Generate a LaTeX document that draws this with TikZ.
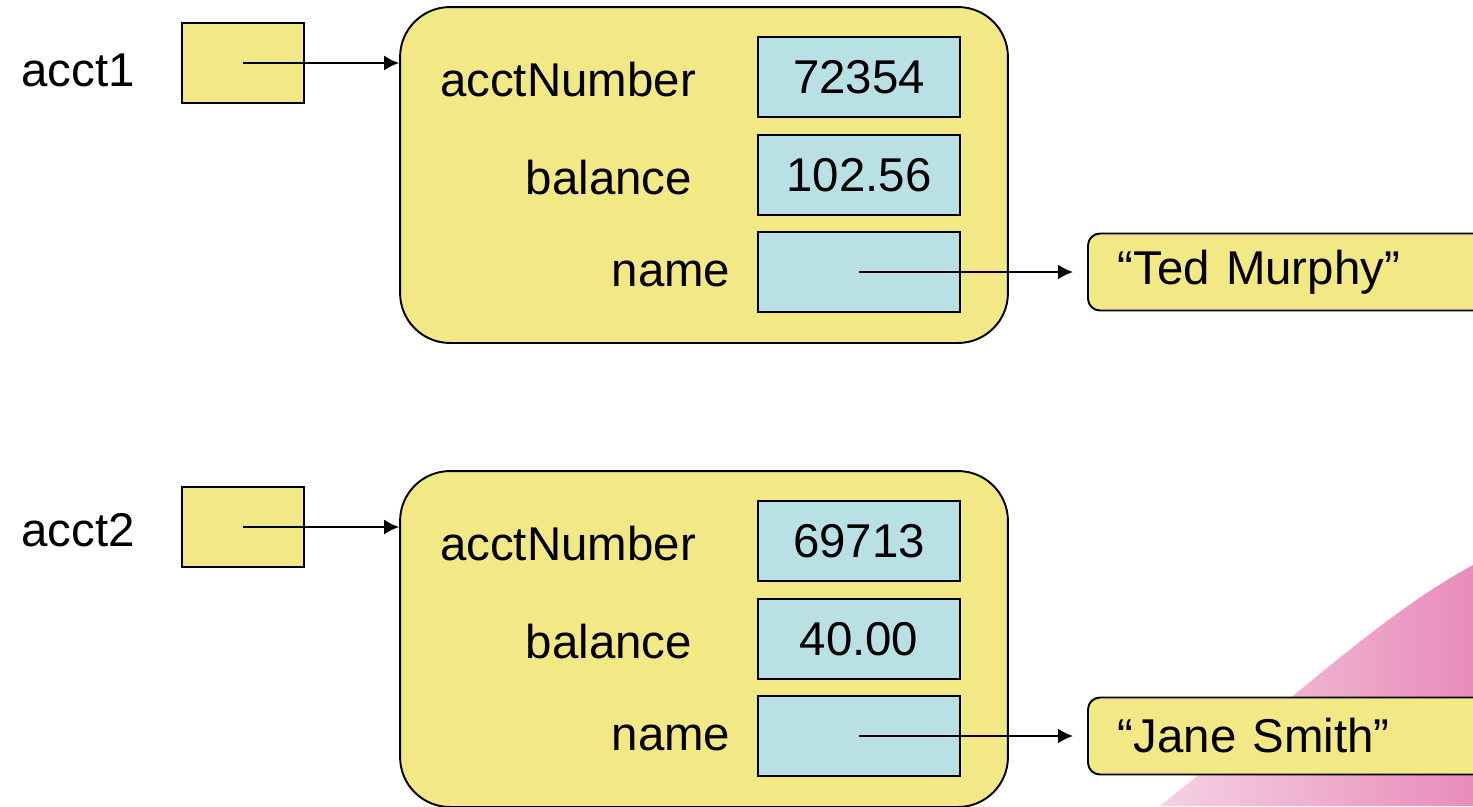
\documentclass[tikz,border=0pt]{standalone}
\usepackage{fontspec}
\setmainfont{Liberation Sans}
\usetikzlibrary{arrows.meta}
\definecolor{objyellow}{RGB}{243,232,134}
\definecolor{fieldblue}{RGB}{185,224,228}
\definecolor{slidepink}{RGB}{232,140,186}
\begin{document}
\begin{tikzpicture}[x=0.02cm,y=-0.02cm,>={Latex[length=0.3cm,width=0.3cm]},
  txt/.style={font=\fontsize{27}{32}\selectfont,inner sep=0pt},
  refbox/.style={draw,line width=1.1pt,fill=objyellow,minimum width=2.44cm,minimum height=1.6cm},
  objbox/.style={draw,line width=1.1pt,fill=objyellow,rounded corners=1cm,
    minimum width=12.16cm,minimum height=6.72cm},
  field/.style={draw,line width=1.1pt,fill=fieldblue,minimum width=4.04cm,
    minimum height=1.6cm,font=\fontsize{27}{32}\selectfont},
  strbox/.style={draw,line width=1.1pt,fill=objyellow,rounded corners=0.24cm,anchor=west,
    text width=8cm,inner xsep=0.6cm,minimum height=1.54cm,font=\fontsize{27}{32}\selectfont},
  edge/.style={->,line width=1.1pt}]
\useasboundingbox (0,0) rectangle (1473,806);
\clip (0,0) rectangle (1473,806);
% slide decoration
\shade[left color=slidepink!40,right color=slidepink] (1160,806) .. controls (1280,710) and (1380,615) .. (1473,565) -- (1473,806) -- cycle;
% first account
\node[txt] (acct1) at (78,70) {acct1};
\node[refbox] (ref1) at (243,63) {};
\node[objbox] (obj1) at (704,175) {};
\node[txt] (num1lbl) at (568,80) {acctNumber};
\node[txt] (bal1lbl) at (609,178) {balance};
\node[txt] (name1lbl) at (671,274) {name};
\node[field] (num1) at (859,77) {72354};
\node[field] (bal1) at (859,175) {102.56};
\node[field] (name1) at (859,272) {};
\node[strbox] (str1) at (1087,272) {“Ted Murphy”};
\draw[edge] (ref1.center)--(ref1.center -| obj1.west);
\draw[edge,shorten >=0.28cm] (name1.center)--(name1.center -| str1.west);
% second account
\node[txt] (acct2) at (78,530) {acct2};
\node[refbox] (ref2) at (243,527) {};
\node[objbox] (obj2) at (704,639) {};
\node[txt] (num2lbl) at (568,544) {acctNumber};
\node[txt] (bal2lbl) at (609,642) {balance};
\node[txt] (name2lbl) at (671,738) {name};
\node[field] (num2) at (859,541) {69713};
\node[field] (bal2) at (859,639) {40.00};
\node[field] (name2) at (859,736) {};
\node[strbox] (str2) at (1087,736) {“Jane Smith”};
\draw[edge] (ref2.center)--(ref2.center -| obj2.west);
\draw[edge,shorten >=0.28cm] (name2.center)--(name2.center -| str2.west);
\end{tikzpicture}
\end{document}
